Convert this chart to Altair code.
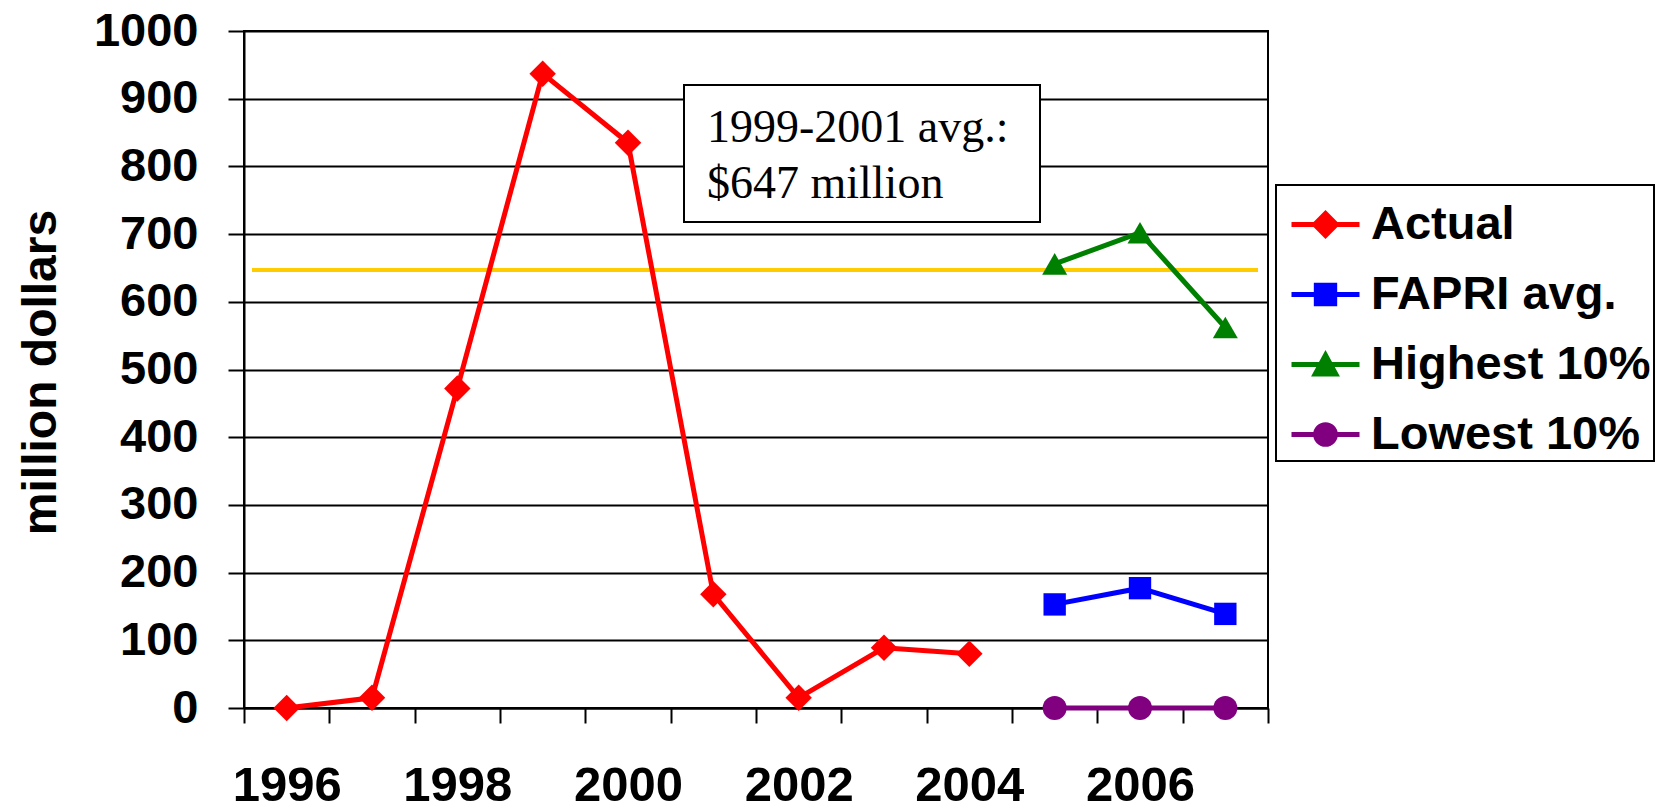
import altair as alt
import pandas as pd

# Category axis: one band per year
years = [str(y) for y in range(1996, 2008)]

# Historical payments (million dollars)
actual_years = ["1996", "1997", "1998", "1999", "2000", "2001", "2002", "2003", "2004"]
actual_vals = [0, 15, 472, 937, 835, 168, 15, 89, 80]

# Projections
proj_years = ["2005", "2006", "2007"]
fapri_vals = [153, 177, 139]
high_vals = [656, 702, 562]
low_vals = [0, 0, 0]

# 1999-2001 average
avg_1999_2001 = 647

series_names = ["Actual", "FAPRI avg.", "Highest 10%", "Lowest 10%"]
series_colors = ["#FF0000", "#0000FF", "#008000", "#800080"]
marker_shapes = ["diamond", "square", "triangle-up", "circle"]
marker_sizes = [700, 500, 625, 576]

# Legend glyphs: a short line with the series marker in the middle
legend_paths = [
    "M-1,0L1,0M-0.32,0L0,-0.32L0.32,0L0,0.32Z",
    "M-1,0L1,0M-0.27,-0.27L0.27,-0.27L0.27,0.27L-0.27,0.27Z",
    "M-1,0L1,0M0,-0.27L0.3,0.28L-0.3,0.28Z",
    "M-1,0L1,0M0.29,0A0.29,0.29,0,1,1,-0.29,0A0.29,0.29,0,1,1,0.29,0Z",
]

rows = []
for yr, v in zip(actual_years, actual_vals):
    rows.append({"year": yr, "value": v, "series": "Actual"})
for name, vals in zip(series_names[1:], [fapri_vals, high_vals, low_vals]):
    for yr, v in zip(proj_years, vals):
        rows.append({"year": yr, "value": v, "series": name})
df = pd.DataFrame(rows)

FONT = "Liberation Sans"

x_enc = alt.X(
    "year:O",
    scale=alt.Scale(type="band", domain=years, paddingInner=0, paddingOuter=0),
    axis=alt.Axis(
        title=None,
        labelAngle=0,
        labelExpr="toNumber(datum.value) % 2 == 0 ? datum.value : ''",
        labelFontSize=49,
        labelPadding=38,
        tickBand="extent",
        tickSize=15,
        grid=False,
    ),
)
y_enc = alt.Y(
    "value:Q",
    scale=alt.Scale(domain=[0, 1000], nice=False),
    axis=alt.Axis(
        title="million dollars",
        values=list(range(0, 1001, 100)),
        format="d",
        labelFontSize=47,
        labelPadding=30,
        tickSize=16,
        grid=True,
        titleFont=FONT,
        titleFontSize=48,
        titleFontWeight="bold",
        titleColor="black",
        titleAngle=270,
        titleAlign="center",
        titleBaseline="alphabetic",
        titleX=-189,
        titleY=341,
    ),
)

base = alt.Chart(df)

layers = []

# 1999-2001 average reference line
avg_line = alt.Chart(pd.DataFrame({"a": [0]})).mark_rule(
    color="#FFCC00", strokeWidth=4
).encode(y=alt.datum(avg_1999_2001), x=alt.value(8), x2=alt.value(1014))
layers.append(avg_line)

for name, color, shape, size in zip(series_names, series_colors, marker_shapes, marker_sizes):
    sub = base.transform_filter(alt.datum.series == name)
    layers.append(sub.mark_line(color=color, strokeWidth=5).encode(x=x_enc, y=y_enc))
    layers.append(
        sub.mark_point(filled=True, shape=shape, size=size, color=color, opacity=1).encode(
            x=x_enc, y=y_enc
        )
    )

# Annotation box
box = alt.Chart(pd.DataFrame({"a": [0]})).mark_rect(
    fill="white", stroke="black", strokeWidth=2
).encode(x=alt.value(440), x2=alt.value(796), y=alt.value(54), y2=alt.value(191))
note = alt.Chart(pd.DataFrame({"a": [0]})).mark_text(
    font="Liberation Serif",
    fontSize=46,
    align="left",
    baseline="alphabetic",
    lineHeight=56,
    color="black",
).encode(
    x=alt.value(463),
    y=alt.value(111),
    text=alt.value(["1999-2001 avg.:", f"${avg_1999_2001} million"]),
)
layers += [box, note]

# Legend carrier (draws nothing itself)
legend_layer = base.transform_filter("false").mark_point(filled=True, opacity=1).encode(
    x=x_enc,
    y=y_enc,
    fill=alt.Fill("series:N", scale=alt.Scale(domain=series_names, range=series_colors), legend=alt.Legend(title=None)),
    stroke=alt.Stroke("series:N", scale=alt.Scale(domain=series_names, range=series_colors), legend=alt.Legend(title=None)),
    shape=alt.Shape("series:N", scale=alt.Scale(domain=series_names, range=legend_paths), legend=alt.Legend(title=None)),
)
layers.append(legend_layer)

chart = (
    alt.layer(*layers)
    .properties(
        width=1024,
        height=677,
        autosize=alt.AutoSizeParams(type="none"),
        padding={"left": 244, "top": 31, "right": 390, "bottom": 101},
        background="white",
    )
    .configure_view(stroke="black", strokeWidth=2)
    .configure_axis(
        domainColor="black",
        domainWidth=2,
        tickColor="black",
        tickWidth=2,
        gridColor="black",
        gridWidth=2,
        gridOpacity=1,
        labelColor="black",
        labelFont=FONT,
        labelFontWeight="bold",
    )
    .configure_legend(
        orient="none",
        legendX=1032,
        legendY=154,
        padding=3,
        rowPadding=10,
        symbolOffset=10,
        strokeColor="black",
        strokeWidth=2,
        fillColor="white",
        symbolSize=4624,
        symbolStrokeWidth=5,
        labelFont=FONT,
        labelFontSize=47,
        labelFontWeight="bold",
        labelColor="black",
        labelOffset=9,
        labelLimit=500,
    )
)

chart.save("out.html", embed_options={"renderer": "svg", "actions": False})
